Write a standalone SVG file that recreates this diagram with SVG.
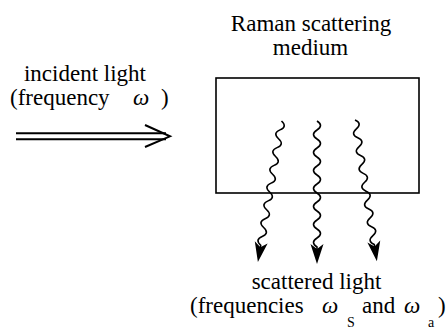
<svg xmlns="http://www.w3.org/2000/svg" width="447" height="330" viewBox="0 0 447 330">
<rect width="447" height="330" fill="#fff"/>
<g id="medium">
  <rect x="216" y="78" width="203" height="115" fill="none" stroke="#000" stroke-width="1.6"/>
  <text x="311" y="31" font-family="Liberation Serif" font-size="23" text-anchor="middle">Raman scattering</text>
  <text x="310.5" y="55" font-family="Liberation Serif" font-size="23" text-anchor="middle">medium</text>
</g>
<g id="incident">
  <text x="85" y="81" font-family="Liberation Serif" font-size="23" text-anchor="middle">incident light</text>
  <text x="10" y="105" font-family="Liberation Serif" font-size="23">(frequency</text>
  <text x="133" y="105" font-family="Liberation Serif" font-size="23" font-style="italic">ω</text>
  <text x="161" y="105" font-family="Liberation Serif" font-size="23">)</text>
</g>
<g id="scattered">
  <text x="316.5" y="289" font-family="Liberation Serif" font-size="23" text-anchor="middle">scattered light</text>
  <text x="190" y="313" font-family="Liberation Serif" font-size="23">(frequencies</text>
  <text x="322" y="313" font-family="Liberation Serif" font-size="23" font-style="italic">ω</text>
  <text x="347" y="327" font-family="Liberation Serif" font-size="14">S</text>
  <text x="362" y="313" font-family="Liberation Serif" font-size="23">and</text>
  <text x="404" y="313" font-family="Liberation Serif" font-size="23" font-style="italic">ω</text>
  <text x="428" y="327" font-family="Liberation Serif" font-size="14">a</text>
  <text x="438" y="313" font-family="Liberation Serif" font-size="23">)</text>
</g>
<g id="connectors" fill="none" stroke="#000">
  <g id="incident-arrow" stroke-width="2">
    <line x1="16" y1="133.3" x2="166" y2="133.3"/>
    <line x1="16" y1="139.3" x2="166" y2="139.3"/>
    <polyline points="145,125 170,136.3 145,147"/>
  </g>
  <g id="scatter-left" transform="translate(281.5,121) rotate(9.5)">
    <path stroke-width="1.6" d="M0,0 q7,4.5 0,9 t0,9 t0,9 t0,9 t0,9 t0,9 t0,9 t0,9 t0,9 t0,9 t0,9 t0,9 t0,9 t0,9 l0,6"/>
    <polygon points="0,143 -6.5,123 0,128 6.5,123" fill="#000" stroke="none"/>
  </g>
  <g id="scatter-mid" transform="translate(317,121)">
    <path stroke-width="1.6" d="M0,0 q7,4.5 0,9 t0,9 t0,9 t0,9 t0,9 t0,9 t0,9 t0,9 t0,9 t0,9 t0,9 t0,9 t0,9 t0,9 l0,6"/>
    <polygon points="0,143 -6.5,123 0,128 6.5,123" fill="#000" stroke="none"/>
  </g>
  <g id="scatter-right" transform="translate(355,120) rotate(-8.8)">
    <path stroke-width="1.6" d="M0,0 q7,4.5 0,9 t0,9 t0,9 t0,9 t0,9 t0,9 t0,9 t0,9 t0,9 t0,9 t0,9 t0,9 t0,9 t0,9 l0,6"/>
    <polygon points="0,143 -6.5,123 0,128 6.5,123" fill="#000" stroke="none"/>
  </g>
</g>
</svg>
